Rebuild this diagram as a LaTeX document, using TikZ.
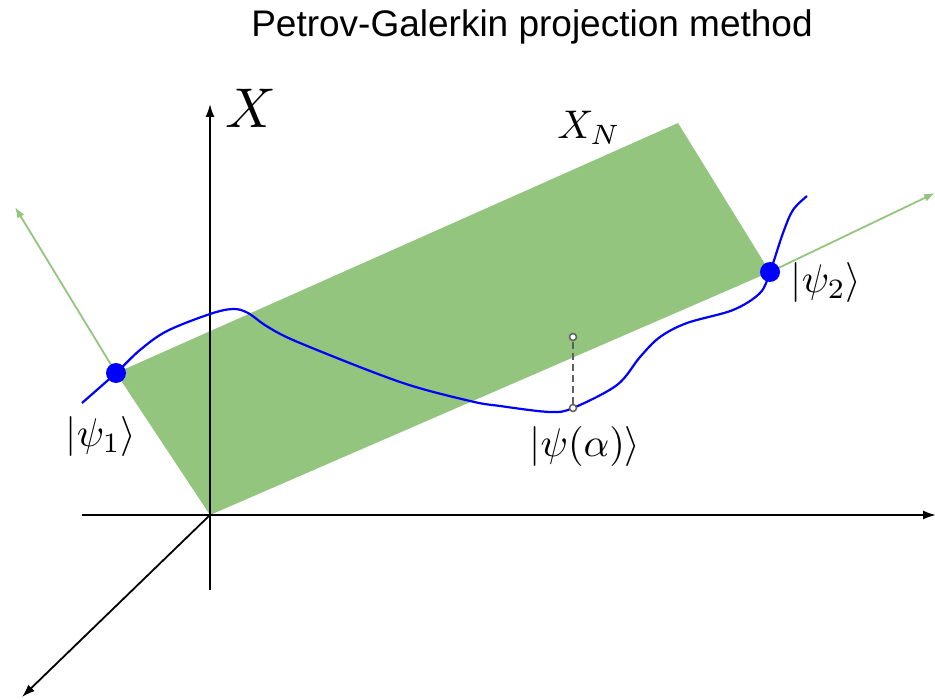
\documentclass[tikz,border=0pt]{standalone}
\usepackage{amsmath, amssymb}
\usepackage{graphicx}
\usepackage{fontspec}
\setsansfont{Liberation Sans}
\usetikzlibrary{arrows.meta}
\definecolor{planegreen}{RGB}{148,197,126}
\definecolor{curveblue}{RGB}{0,0,255}
\definecolor{dashgray}{RGB}{95,95,95}
\newcommand{\bigmath}[2][4]{\scalebox{#1}{$#2$}}

\begin{document}
\begin{tikzpicture}[x=1pt, y=-1pt,
    axis/.style={line width=1.8pt, -{Latex[length=13pt,width=9pt]}},
    basis/.style={planegreen, line width=1.8pt, -{Latex[length=11pt,width=8pt]}},
    curve/.style={curveblue, line width=2.2pt},
    state/.style={circle, fill=curveblue, inner sep=0pt, minimum size=20pt},
    probe/.style={circle, draw=dashgray, fill=white, line width=1.5pt, inner sep=0pt, minimum size=7pt},
    lbl/.style={inner sep=0pt}]
  \useasboundingbox (0,0) rectangle (935,700);
  % title
  \node[font=\sffamily\fontsize{37}{40}\selectfont] (title) at (532,27) {Petrov-Galerkin projection method};
  % corners of the plane
  \coordinate (O) at (210,515);
  \coordinate (p1) at (116,373);
  \coordinate (top) at (678,123);
  \coordinate (p2) at (770,272);
  \fill[planegreen] (O) -- (p1) -- (top) -- (p2) -- cycle;
  % axes
  \coordinate (xl) at (82,515);
  \coordinate (xr) at (936,515);
  \coordinate (yb) at (210,590);
  \coordinate (yt) at (210,104);
  \coordinate (zd) at (22,697);
  \draw[line width=1.8pt] (xl) -- (O);
  \draw[axis] (O) -- (xr);
  \draw[line width=1.8pt] (yb) -- (O);
  \draw[axis] (O) -- (yt);
  \draw[axis] (O) -- (zd);
  \node[lbl] (X) at (251,108) {\bigmath[5.6]{X}};
  \node[lbl] (XN) at (589,128) {\bigmath{X_N}};
  % basis directions
  \coordinate (b1) at (15,207);
  \coordinate (b2) at (935,193);
  \draw[basis] (p1) -- (b1);
  \draw[basis] (p2) -- (b2);
  % path of states
  \draw[curve] plot[smooth, tension=0.55] coordinates {(82,403) (116,373) (140,350) (167,331)
    (210,314) (233,309) (248,313) (268,327) (300,343) (400,382) (470,401) (500,406)
    (550,412) (573,408) (617,385) (640,357) (660,337) (687,323) (733,310) (760,293)
    (770,272) (783,233) (793,210) (807,196)};
  \node[state] (s1) at (p1) {};
  \node[state] (s2) at (p2) {};
  % projection of psi(alpha)
  \node[probe] (pa) at (573,408) {};
  \node[probe] (pp) at (573,337) {};
  \draw[dashgray, line width=1.6pt, dash pattern=on 7pt off 4pt] (pa) -- (pp);
  % labels
  \node[lbl] (l1) at (101,437) {\bigmath{|\psi_1\rangle}};
  \node[lbl] (l2) at (826,283) {\bigmath{|\psi_2\rangle}};
  \node[lbl] (la) at (585,447) {\bigmath{|\psi(\alpha)\rangle}};
\end{tikzpicture}
\end{document}
